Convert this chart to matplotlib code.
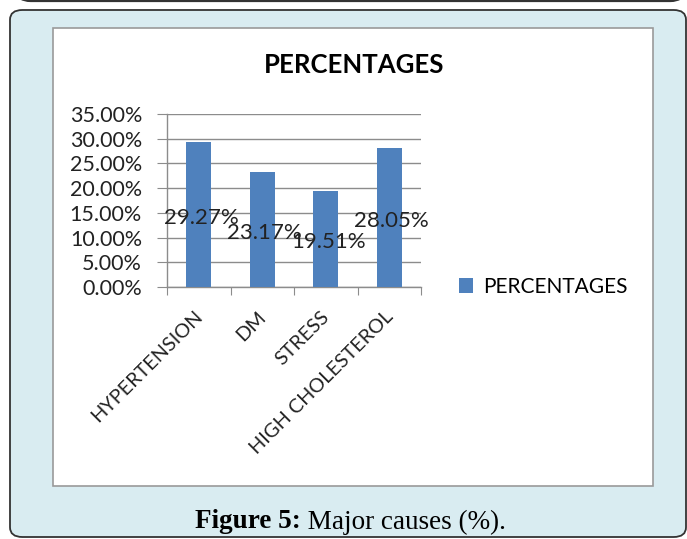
import numpy as np
import matplotlib
matplotlib.use("Agg")
import matplotlib.pyplot as plt
from matplotlib.patches import FancyBboxPatch, Rectangle
from matplotlib.ticker import MultipleLocator, FuncFormatter
from matplotlib.transforms import ScaledTranslation

W, H = 687, 539

categories = ["HYPERTENSION", "DM", "STRESS", "HIGH CHOLESTEROL"]
values = [29.27, 23.17, 19.51, 28.05]
series_name = "PERCENTAGES"
caption_bold = "Figure 5:"
caption_rest = " Major causes (%)."

BAR = "#4f81bd"
GRID = "#8c8c8c"
PANEL = "#d9ecf1"
FONT = "Lato"


def fx(px):
    return px / W


def fy(py):
    return 1 - py / H


fig = plt.figure(figsize=(W / 100, H / 100), dpi=100, facecolor="white")

# top frame remnant and light blue panel, behind the axes
fig.patches.append(FancyBboxPatch((fx(17), fy(1)), fx(667), 0.1,
                                  boxstyle="round,pad=0,rounding_size=0.02",
                                  transform=fig.transFigure, fc="white", ec="#333333",
                                  lw=1.6, zorder=-10))
fig.patches.append(FancyBboxPatch((fx(10), fy(537)), fx(676), fy(10) - fy(537),
                                  boxstyle="round,pad=0,rounding_size=0.018",
                                  transform=fig.transFigure, fc=PANEL, ec="#333333",
                                  lw=1.3, zorder=-10))
# white chart box
fig.patches.append(Rectangle((fx(53), fy(486)), fx(600), fy(28) - fy(486),
                             transform=fig.transFigure, fc="white", ec="#9a9a9a",
                             lw=1.2, zorder=-9))

ax = fig.add_axes([fx(167), fy(287), fx(421) - fx(167), fy(114) - fy(287)])
ax.set_facecolor("none")
x = np.arange(len(categories))
ax.bar(x, values, width=0.39, color=BAR, label=series_name, zorder=3)
ax.set_xlim(-0.5, len(categories) - 0.5)
ax.set_ylim(0, 35)
ax.yaxis.set_major_locator(MultipleLocator(5))
ax.yaxis.set_major_formatter(FuncFormatter(lambda v, p: f"{v:.2f}%"))
ax.grid(axis="y", color=GRID, lw=1.0, zorder=0)
for s in ["top", "right"]:
    ax.spines[s].set_visible(False)
for s in ["left", "bottom"]:
    ax.spines[s].set_color(GRID)
    ax.spines[s].set_linewidth(1.0)

ax.set_xticks(np.arange(len(categories) + 1) - 0.5)
ax.set_xticklabels([])
ax.set_xticks(x, minor=True)
ax.set_xticklabels(categories, minor=True, rotation=45, ha="right",
                   rotation_mode="anchor", fontsize=14.3, family=FONT, color="#222222")
ax.tick_params(axis="x", which="minor", length=0, pad=15)
ax.tick_params(axis="x", which="major", length=6, color=GRID)
ax.tick_params(axis="y", length=7, color=GRID, pad=11, labelsize=15.5, labelcolor="#222222")
for lab in ax.get_yticklabels():
    lab.set_family(FONT)
shift = ScaledTranslation(-5 / 100, 0, fig.dpi_scale_trans)
for lab in ax.get_xticklabels(minor=True):
    lab.set_transform(lab.get_transform() + shift)

for xi, v in zip(x, values):
    ax.text(xi + 0.04, v / 2 - 0.6, f"{v:.2f}%", ha="center", va="center",
            fontsize=16, family=FONT, color="#222222", zorder=4)

fig.text(fx(354), fy(65), series_name, ha="center", va="center",
         fontsize=18.5, fontweight="bold", family=FONT, color="black")

handles, labels = ax.get_legend_handles_labels()
fig.legend(handles, labels, loc="center left", bbox_to_anchor=(fx(440), fy(287)),
           frameon=False, handlelength=0.7, handleheight=0.7, handletextpad=0.45,
           prop={"family": FONT, "size": 15})

t1 = fig.text(fx(195), fy(522), caption_bold, ha="left", va="center",
              fontsize=19.5, fontweight="bold", family="Liberation Serif", color="black")
fig.canvas.draw()
bb = t1.get_window_extent()
fig.text(bb.x1 / W, fy(522), caption_rest, ha="left", va="center",
         fontsize=19.5, family="Liberation Serif", color="black")

fig.savefig("out.png", dpi=100)
